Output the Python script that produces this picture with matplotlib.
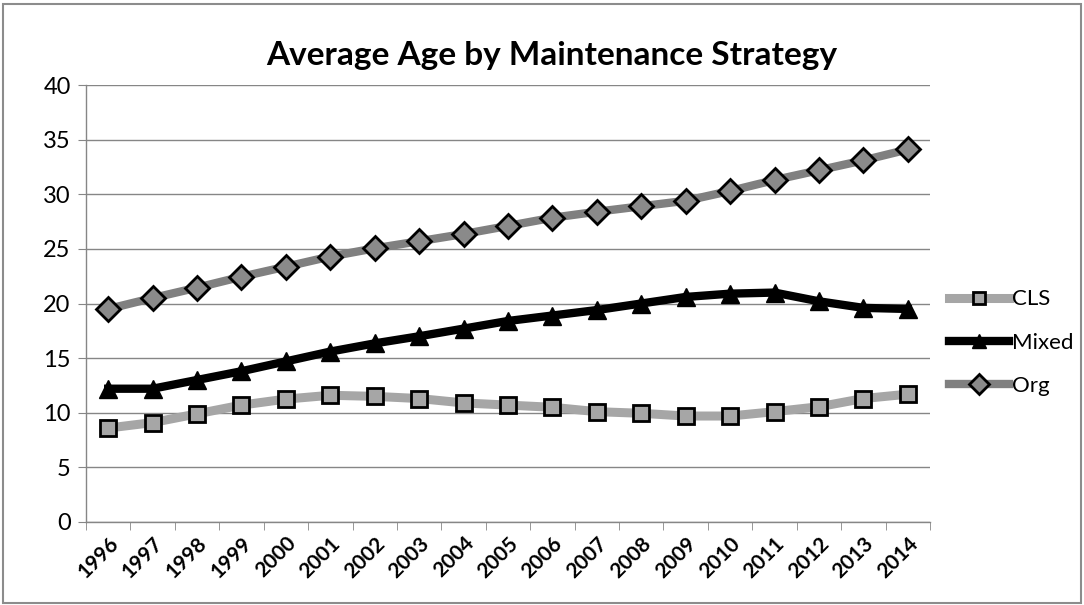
import matplotlib
matplotlib.use("Agg")
import matplotlib.pyplot as plt
from matplotlib.patches import Rectangle
from matplotlib.ticker import MultipleLocator, FixedLocator

years = [str(y) for y in range(1996, 2015)]
cls_vals = [8.6, 9.1, 9.9, 10.7, 11.25, 11.6, 11.5, 11.3, 10.9, 10.7, 10.5,
            10.1, 9.95, 9.7, 9.7, 10.1, 10.55, 11.3, 11.7]
mixed_vals = [12.2, 12.2, 13.0, 13.8, 14.7, 15.6, 16.35, 17.0, 17.7, 18.4, 18.9,
              19.4, 20.0, 20.6, 20.9, 21.0, 20.2, 19.6, 19.5]
org_vals = [19.5, 20.5, 21.45, 22.45, 23.37, 24.3, 25.05, 25.7, 26.36, 27.1, 27.85,
            28.4, 28.9, 29.4, 30.3, 31.3, 32.2, 33.1, 34.1]
series_names = ["CLS", "Mixed", "Org"]

FONT = ["Lato", "DejaVu Sans"]
plt.rcParams['font.family'] = FONT

fig = plt.figure(figsize=(10.84, 6.05), dpi=100)
ax = fig.add_axes([86/1084, 1-522/605, (930-86)/1084, (522-85)/605])

x = list(range(len(years)))
ax.plot(x, cls_vals, color="#a6a6a6", lw=6.5, marker="s", ms=11,
        mfc="#a6a6a6", mec="black", mew=2, label=series_names[0], zorder=3)
ax.plot(x, mixed_vals, color="black", lw=6, marker="^", ms=13,
        mfc="black", mec="black", mew=1, label=series_names[1], zorder=3)
ax.plot(x, org_vals, color="#808080", lw=6, marker="D", ms=12.5,
        mfc="#8a8a8a", mec="black", mew=2, label=series_names[2], zorder=3)

ax.set_xlim(-0.5, len(years) - 0.5)
ax.set_ylim(0, 40)
ax.yaxis.set_major_locator(MultipleLocator(5))
ax.grid(axis="y", color="#868686", lw=1)
ax.set_axisbelow(True)

ax.set_xticks(x)
ax.set_xticklabels(years, rotation=45, ha="right", rotation_mode="anchor",
                   fontsize=15, fontweight="bold")
ax.tick_params(axis="x", which="major", length=0, pad=8)
ax.xaxis.set_minor_locator(FixedLocator([i - 0.5 for i in range(len(years) + 1)]))
ax.tick_params(axis="x", which="minor", length=6, color="#868686", direction="out")
ax.tick_params(axis="y", labelsize=17, length=6, color="#868686", direction="out", pad=5)

for s in ["top", "right"]:
    ax.spines[s].set_visible(False)
for s in ["left", "bottom"]:
    ax.spines[s].set_color("#868686")
    ax.spines[s].set_linewidth(1)

fig.text(552/1084, 1-55/605, "Average Age by Maintenance Strategy",
         ha="center", va="center", fontsize=24, fontweight="bold")

leg = ax.legend(loc="center left", bbox_to_anchor=(1.012, 0.41), frameon=False,
                fontsize=16, handlelength=2.7, labelspacing=1.05, handletextpad=0.15,
                borderaxespad=0.0, markerscale=0.8)

fig.patches.append(Rectangle((0.003, 0.004), 0.994, 0.99, transform=fig.transFigure,
                             fill=False, ec="#8c8c8c", lw=1.5))

fig.savefig("out.png", dpi=100)
